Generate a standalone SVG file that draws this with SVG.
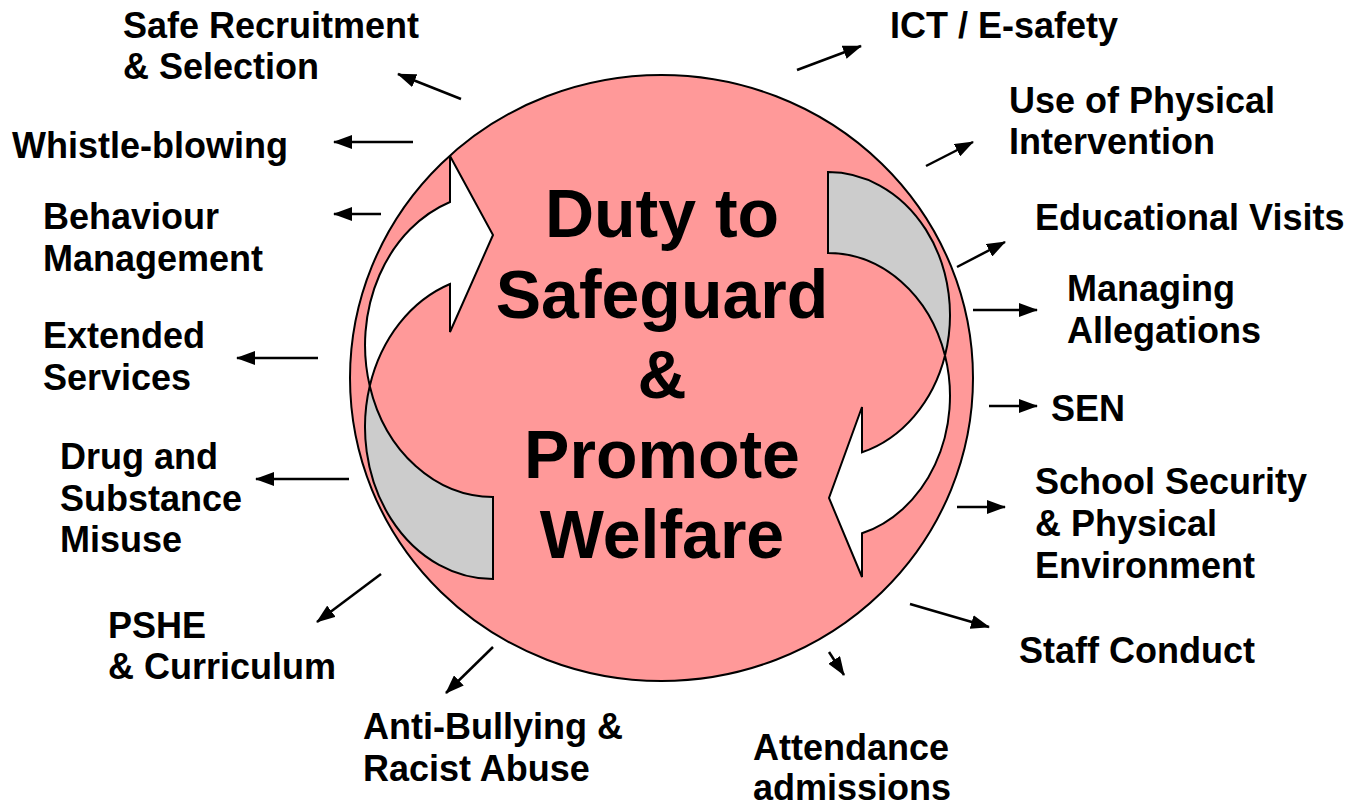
<svg xmlns="http://www.w3.org/2000/svg" width="1358" height="807" viewBox="0 0 1358 807">
  <style>
    .lbl { font-family: "Liberation Sans", Arial, sans-serif; font-weight: bold; font-size: 36px; fill: #000; }
    .title { font-family: "Liberation Sans", Arial, sans-serif; font-weight: bold; font-size: 68px; fill: #000; text-anchor: middle; }
    .edge { stroke: #000; stroke-width: 2.5; fill: none; marker-end: url(#head); }
    .front { fill: #FFFFFF; stroke: #000; stroke-width: 2; stroke-linejoin: miter; }
    .back { fill: #CCCCCC; stroke: #000; stroke-width: 2; }
  </style>
  <defs>
    <marker id="head" markerUnits="userSpaceOnUse" markerWidth="20" markerHeight="14" refX="18" refY="7" orient="auto">
      <path d="M0,0 L19,7 L0,14 Z" fill="#000"/>
    </marker>
  </defs>
  <rect width="1358" height="807" fill="#FFFFFF"/>

  <!-- central disc with the two curved arrows -->
  <g id="hub">
    <ellipse cx="661.5" cy="378" rx="311.5" ry="303" fill="#FF9999" stroke="#000" stroke-width="2"/>
    <!-- left curved arrow: back face then front face -->
    <path class="back" d="M369.75,386 A128,152 0 0,0 493,579 L493,497 A128,152 0 0,1 369.75,386 Z"/>
    <path class="front" d="M450,156 L493,235 L450,332 L450,284 A128,152 0 0,0 369.75,386 A128,152 0 0,1 450,202 Z"/>
    <!-- right curved arrow: back face then front face -->
    <path class="back" d="M828,172 A122,143 0 0,1 945,355.5 A122,143 0 0,0 828,253 Z"/>
    <path class="front" d="M945,355.5 A122,143 0 0,1 862,533.3 L862,577 L829,498 L862,407 L862,452.3 A122,143 0 0,0 945,355.5 Z"/>
    <text class="title" x="662" y="237">Duty to</text>
    <text class="title" x="662" y="317.5">Safeguard</text>
    <text class="title" x="662" y="397.5">&amp;</text>
    <text class="title" x="662" y="477.5">Promote</text>
    <text class="title" x="662" y="558">Welfare</text>
  </g>

  <!-- connectors -->
  <g id="connectors">
    <line class="edge" x1="461" y1="99" x2="398" y2="74"/>
    <line class="edge" x1="413" y1="142" x2="334" y2="142"/>
    <line class="edge" x1="381" y1="214" x2="334" y2="214"/>
    <line class="edge" x1="318" y1="358" x2="237" y2="358"/>
    <line class="edge" x1="349" y1="479" x2="256" y2="479"/>
    <line class="edge" x1="381" y1="574" x2="317" y2="622"/>
    <line class="edge" x1="493" y1="647" x2="446" y2="693"/>
    <line class="edge" x1="829" y1="652" x2="844" y2="675"/>
    <line class="edge" x1="910" y1="604" x2="989" y2="627"/>
    <line class="edge" x1="957" y1="507" x2="1005" y2="507"/>
    <line class="edge" x1="989" y1="406" x2="1037" y2="406"/>
    <line class="edge" x1="973" y1="310" x2="1037" y2="310"/>
    <line class="edge" x1="957" y1="267" x2="1005" y2="242"/>
    <line class="edge" x1="926" y1="166" x2="973" y2="142"/>
    <line class="edge" x1="797" y1="70" x2="861" y2="46"/>
  </g>

  <g id="safe-recruitment"><text class="lbl" x="123" y="38">Safe Recruitment</text><text class="lbl" x="123" y="79">&amp; Selection</text></g>
  <g id="whistle-blowing"><text class="lbl" x="12" y="158">Whistle-blowing</text></g>
  <g id="behaviour"><text class="lbl" x="43" y="229">Behaviour</text><text class="lbl" x="43" y="271">Management</text></g>
  <g id="extended"><text class="lbl" x="43" y="348">Extended</text><text class="lbl" x="43" y="390">Services</text></g>
  <g id="drug"><text class="lbl" x="60" y="469">Drug and</text><text class="lbl" x="60" y="511">Substance</text><text class="lbl" x="60" y="552">Misuse</text></g>
  <g id="pshe"><text class="lbl" x="108" y="638">PSHE</text><text class="lbl" x="108" y="679">&amp; Curriculum</text></g>
  <g id="anti-bullying"><text class="lbl" x="363" y="739">Anti-Bullying &amp;</text><text class="lbl" x="363" y="781">Racist Abuse</text></g>
  <g id="attendance"><text class="lbl" x="753" y="760">Attendance</text><text class="lbl" x="753" y="800">admissions</text></g>
  <g id="staff-conduct"><text class="lbl" x="1019" y="663">Staff Conduct</text></g>
  <g id="school-security"><text class="lbl" x="1035" y="494">School Security</text><text class="lbl" x="1035" y="536">&amp; Physical</text><text class="lbl" x="1035" y="578">Environment</text></g>
  <g id="sen"><text class="lbl" x="1051" y="421">SEN</text></g>
  <g id="managing-allegations"><text class="lbl" x="1067" y="301">Managing</text><text class="lbl" x="1067" y="343">Allegations</text></g>
  <g id="educational-visits"><text class="lbl" x="1035" y="230">Educational Visits</text></g>
  <g id="physical-intervention"><text class="lbl" x="1009" y="113">Use of Physical</text><text class="lbl" x="1009" y="154">Intervention</text></g>
  <g id="ict"><text class="lbl" x="890" y="38">ICT / E-safety</text></g>
</svg>
